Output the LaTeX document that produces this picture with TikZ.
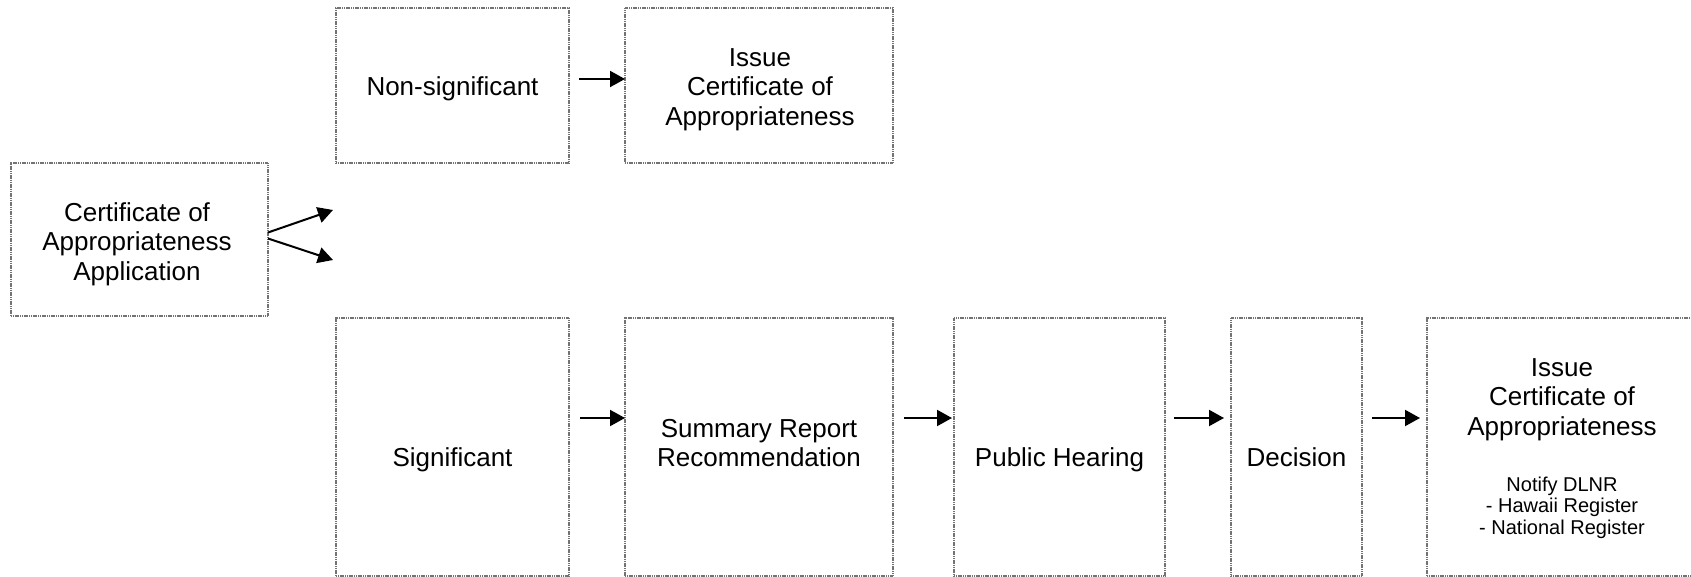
\documentclass[tikz,border=0pt]{standalone}
\usepackage{fontspec}
\newfontfamily\arialf{Liberation Sans}
\usetikzlibrary{arrows.meta,calc}
\newcommand{\bigf}{\arialf\fontsize{26}{29.5}\selectfont}
\newcommand{\smallf}{\arialf\fontsize{20}{21.5}\selectfont}
\begin{document}
\begin{tikzpicture}[x=1pt,y=-1pt,
  box/.style={draw=black!55, line width=1.1pt, dash pattern=on 1.2pt off 0.6pt, inner sep=0pt, outer sep=0pt},
  txt/.style={font=\bigf, align=center, inner sep=0pt, anchor=north, yshift=20.65pt},
  smalltxt/.style={font=\smallf, align=center, inner sep=0pt, anchor=north, yshift=15.05pt},
  arr/.style={line width=2pt, -{Triangle[length=15pt,width=16pt]}}]
\clip (0,0) rectangle (1691,577);
\fill[white] (0,0) rectangle (1691,577);
% boxes
\node[box, minimum width=257pt, minimum height=153pt] (app) at (139.5,239.5) {};
\node[box, minimum width=233pt, minimum height=155pt] (nonsig) at (452.5,85.5) {};
\node[box, minimum width=268pt, minimum height=155pt] (issueA) at (759,85.5) {};
\node[box, minimum width=233pt, minimum height=258pt] (sig) at (452.5,447) {};
\node[box, minimum width=268pt, minimum height=258pt] (sum) at (759,447) {};
\node[box, minimum width=211pt, minimum height=258pt] (ph) at (1059.5,447) {};
\node[box, minimum width=131pt, minimum height=258pt] (dec) at (1296.5,447) {};
\node[box, minimum width=278pt, minimum height=258pt] (issueB) at (1566,447) {};
% texts
\node[txt] (appT) at (137,221) {\strut Certificate of\\\strut Appropriateness\\\strut Application};
\node[txt] (nonsigT) at (452.5,95) {\strut Non-significant};
\node[txt] (issueAT) at (760,66) {\strut Issue\\\strut Certificate of\\\strut Appropriateness};
\node[txt] (sigT) at (452.5,466) {\strut Significant};
\node[txt] (sumT) at (759,437) {\strut Summary Report\\\strut Recommendation};
\node[txt] (phT) at (1059.5,466) {\strut Public Hearing};
\node[txt] (decT) at (1296.5,466) {\strut Decision};
\node[txt] (issueBT) at (1562,376) {\strut Issue\\\strut Certificate of\\\strut Appropriateness};
\node[smalltxt] (issueBN) at (1562,491) {\strut Notify DLNR\\\strut - Hawaii Register\\\strut - National Register};
% free arrow ends
\coordinate (upEnd) at (333,210);
\coordinate (downEnd) at (333,260);
% connectors
\draw[arr] ($(app.east)+(0,-7)$) -- (upEnd);
\draw[arr] ($(app.east)+(0,-1)$) -- (downEnd);
\draw[arr] ($(nonsig.east)+(10,-6.5)$) -- ($(issueA.west)+(0,-6.5)$);
\draw[arr] ($(sig.east)+(11,-29)$) -- ($(sum.west)+(0,-29)$);
\draw[arr] ($(sum.east)+(11,-29)$) -- ($(ph.west)+(-2,-29)$);
\draw[arr] ($(ph.east)+(9,-29)$) -- ($(dec.west)+(-7,-29)$);
\draw[arr] ($(dec.east)+(10,-29)$) -- ($(issueB.west)+(-7,-29)$);
\end{tikzpicture}
\end{document}
